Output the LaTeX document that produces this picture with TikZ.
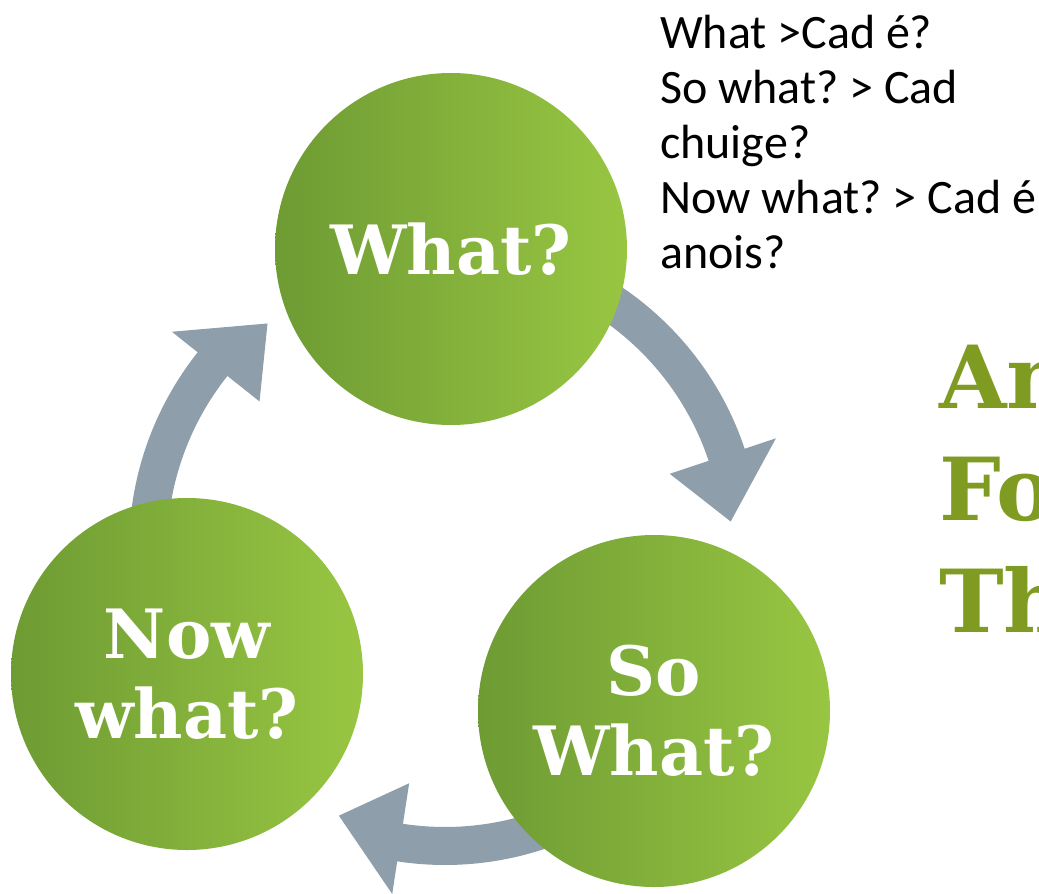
\documentclass[tikz,border=0pt]{standalone}
\usepackage{fontspec}
\setmainfont{Carlito}
\newfontfamily\slabfont{DejaVu Serif}
\newfontfamily\titlefont{DejaVu Serif}
\definecolor{leafdark}{HTML}{6E9B33}
\definecolor{leaflight}{HTML}{98C642}
\definecolor{loopgray}{HTML}{8E9FAB}
\definecolor{olivetext}{HTML}{7F9B22}
\frenchspacing
\begin{document}
\begin{tikzpicture}[x=1pt,y=-1pt]
    \tikzstyle{phase} = [circle, minimum size=352pt, inner sep=0pt, shade,
      left color=leafdark, right color=leaflight, text=white, align=center,
      font=\slabfont\bfseries\fontsize{68}{80}\selectfont]
    \tikzstyle{loop arrow} = [fill=loopgray]
    \useasboundingbox (0,0) rectangle (1039,894);
    \clip (0,0) rectangle (1039,894);
    \coordinate (hub) at (445,549);
    \foreach \from/\base/\tip in {-75/-18.5/-5.5, 60/98.7/111.7, 175/218.5/231.8} {
      \fill[loop arrow, shift={(hub)}]
        (\from:316) arc[start angle=\from, end angle=\base, radius=316]
        -- (\base:349) -- (\tip:287) -- (\base:237) -- (\base:278)
        arc[start angle=\base, end angle=\from, radius=278] -- cycle;
    }
    \node[phase] (what) at (451,249) {What?};
    \node[phase] (sowhat) at (654,711) {So\\What?};
    \node[phase] (nowwhat) at (187,674) {Now\\what?};
    \node[anchor=north west, inner sep=0pt, align=left,
      font=\fontsize{48}{55}\selectfont] (notes) at (660,15)
      {What >Cad é?\\So what? > Cad\\chuige?\\Now what? > Cad é\\anois?};
    \node[anchor=north west, inner sep=0pt, align=left, text=olivetext,
      font=\titlefont\bfseries\fontsize{87}{112}\selectfont] (title) at (939,345)
      {An\\Fo\\Th};
\end{tikzpicture}
\end{document}
